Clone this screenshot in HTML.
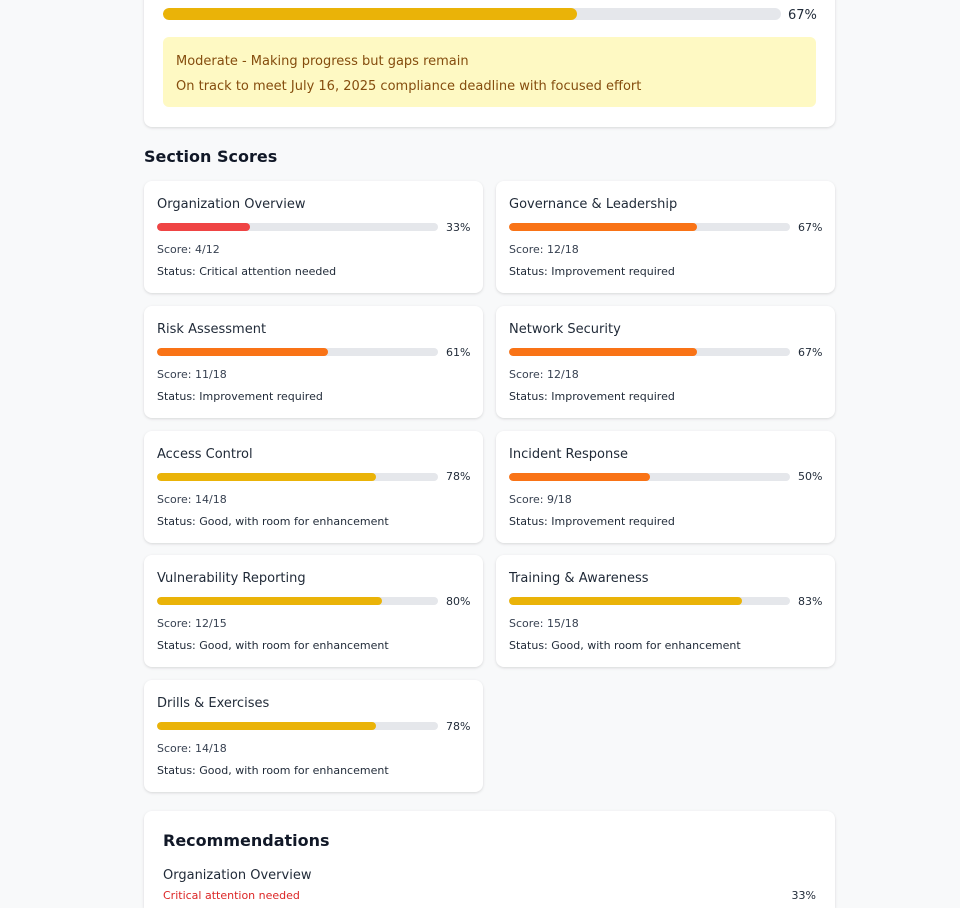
<!DOCTYPE html>
<html>
<head>
<meta charset="utf-8">
<style>
  html, body { margin:0; padding:0; width:960px; height:908px; overflow:hidden; }
  body {
    position:relative;
    background:#f8f9fa;
    font-family:"DejaVu Sans","Liberation Sans",sans-serif;
    color:#1f2937;
  }
  .card {
    position:absolute; background:#fff; border-radius:8px;
    box-shadow:0 1px 3px rgba(0,0,0,0.10), 0 1px 2px rgba(0,0,0,0.04);
  }
  .abs { position:absolute; white-space:nowrap; }
  .track { position:absolute; background:#e5e7eb; overflow:hidden; }
  .fill { position:absolute; left:0; top:0; bottom:0; }
  .sc { width:339px; height:112px; }
  .sc .t { position:absolute; left:13px; top:15px; font-size:13px; line-height:17px; color:#1f2937; white-space:nowrap; }
  .sc .track { left:13px; top:42px; width:281px; height:8px; border-radius:4px; }
  .sc .fill { border-radius:4px; }
  .sc .p { position:absolute; left:302px; top:39.5px; font-size:11px; line-height:14px; color:#1f2937; }
  .sc .s { position:absolute; left:13px; top:62px; font-size:11px; line-height:14px; color:#374151; white-space:nowrap; }
  .sc .st { position:absolute; left:13px; top:84px; font-size:11px; line-height:14px; color:#1f2937; white-space:nowrap; }
  .red { background:#ef4444; }
  .orange { background:#f97316; }
  .yellow { background:#eab308; }
</style>
</head>
<body>

<!-- Top summary card -->
<div class="card" style="left:144px; top:-40px; width:691px; height:166.5px;"></div>
<div class="track" style="left:163px; top:8px; width:617.5px; height:12px; border-radius:6px;">
  <div class="fill yellow" style="width:413.5px; border-radius:6px;"></div>
</div>
<div class="abs" style="left:788px; top:6px; font-size:13px; line-height:19px; color:#1f2937;">67%</div>
<div class="abs" style="left:163px; top:37px; width:653px; height:69.5px; background:#fef9c3; border-radius:6px;"></div>
<div class="abs" style="left:176px; top:51.5px; font-size:13px; line-height:19px; color:#854d0e;">Moderate - Making progress but gaps remain</div>
<div class="abs" style="left:176px; top:76.5px; font-size:13px; line-height:19px; color:#854d0e;">On track to meet July 16, 2025 compliance deadline with focused effort</div>

<!-- Section Scores heading -->
<div class="abs" style="left:144px; top:147px; font-size:16px; line-height:20px; font-weight:bold; color:#111827;">Section Scores</div>

<!-- Row 1 -->
<div class="card sc" style="left:144px; top:181px;">
  <div class="t">Organization Overview</div>
  <div class="track"><div class="fill red" style="width:33%;"></div></div>
  <div class="p">33%</div>
  <div class="s">Score: 4/12</div>
  <div class="st">Status: Critical attention needed</div>
</div>
<div class="card sc" style="left:496px; top:181px;">
  <div class="t">Governance &amp; Leadership</div>
  <div class="track"><div class="fill orange" style="width:67%;"></div></div>
  <div class="p">67%</div>
  <div class="s">Score: 12/18</div>
  <div class="st">Status: Improvement required</div>
</div>

<!-- Row 2 -->
<div class="card sc" style="left:144px; top:306px;">
  <div class="t">Risk Assessment</div>
  <div class="track"><div class="fill orange" style="width:61%;"></div></div>
  <div class="p">61%</div>
  <div class="s">Score: 11/18</div>
  <div class="st">Status: Improvement required</div>
</div>
<div class="card sc" style="left:496px; top:306px;">
  <div class="t">Network Security</div>
  <div class="track"><div class="fill orange" style="width:67%;"></div></div>
  <div class="p">67%</div>
  <div class="s">Score: 12/18</div>
  <div class="st">Status: Improvement required</div>
</div>

<!-- Row 3 -->
<div class="card sc" style="left:144px; top:430.5px;">
  <div class="t">Access Control</div>
  <div class="track"><div class="fill yellow" style="width:78%;"></div></div>
  <div class="p">78%</div>
  <div class="s">Score: 14/18</div>
  <div class="st">Status: Good, with room for enhancement</div>
</div>
<div class="card sc" style="left:496px; top:430.5px;">
  <div class="t">Incident Response</div>
  <div class="track"><div class="fill orange" style="width:50%;"></div></div>
  <div class="p">50%</div>
  <div class="s">Score: 9/18</div>
  <div class="st">Status: Improvement required</div>
</div>

<!-- Row 4 -->
<div class="card sc" style="left:144px; top:555.25px;">
  <div class="t">Vulnerability Reporting</div>
  <div class="track"><div class="fill yellow" style="width:80%;"></div></div>
  <div class="p">80%</div>
  <div class="s">Score: 12/15</div>
  <div class="st">Status: Good, with room for enhancement</div>
</div>
<div class="card sc" style="left:496px; top:555.25px;">
  <div class="t">Training &amp; Awareness</div>
  <div class="track"><div class="fill yellow" style="width:83%;"></div></div>
  <div class="p">83%</div>
  <div class="s">Score: 15/18</div>
  <div class="st">Status: Good, with room for enhancement</div>
</div>

<!-- Row 5 -->
<div class="card sc" style="left:144px; top:680px;">
  <div class="t">Drills &amp; Exercises</div>
  <div class="track"><div class="fill yellow" style="width:78%;"></div></div>
  <div class="p">78%</div>
  <div class="s">Score: 14/18</div>
  <div class="st">Status: Good, with room for enhancement</div>
</div>

<!-- Recommendations card -->
<div class="card" style="left:144px; top:810.7px; width:691px; height:97.3px; border-bottom-left-radius:0; border-bottom-right-radius:0;"></div>
<div class="abs" style="left:163px; top:830.5px; font-size:16px; line-height:20px; font-weight:bold; color:#111827;">Recommendations</div>
<div class="abs" style="left:163px; top:867px; font-size:13px; line-height:17px; color:#1f2937;">Organization Overview</div>
<div class="abs" style="left:163px; top:889px; font-size:11px; line-height:14px; color:#dc2626;">Critical attention needed</div>
<div class="abs" style="right:144px; top:889px; font-size:11px; line-height:14px; color:#1f2937; text-align:right;">33%</div>

</body>
</html>
